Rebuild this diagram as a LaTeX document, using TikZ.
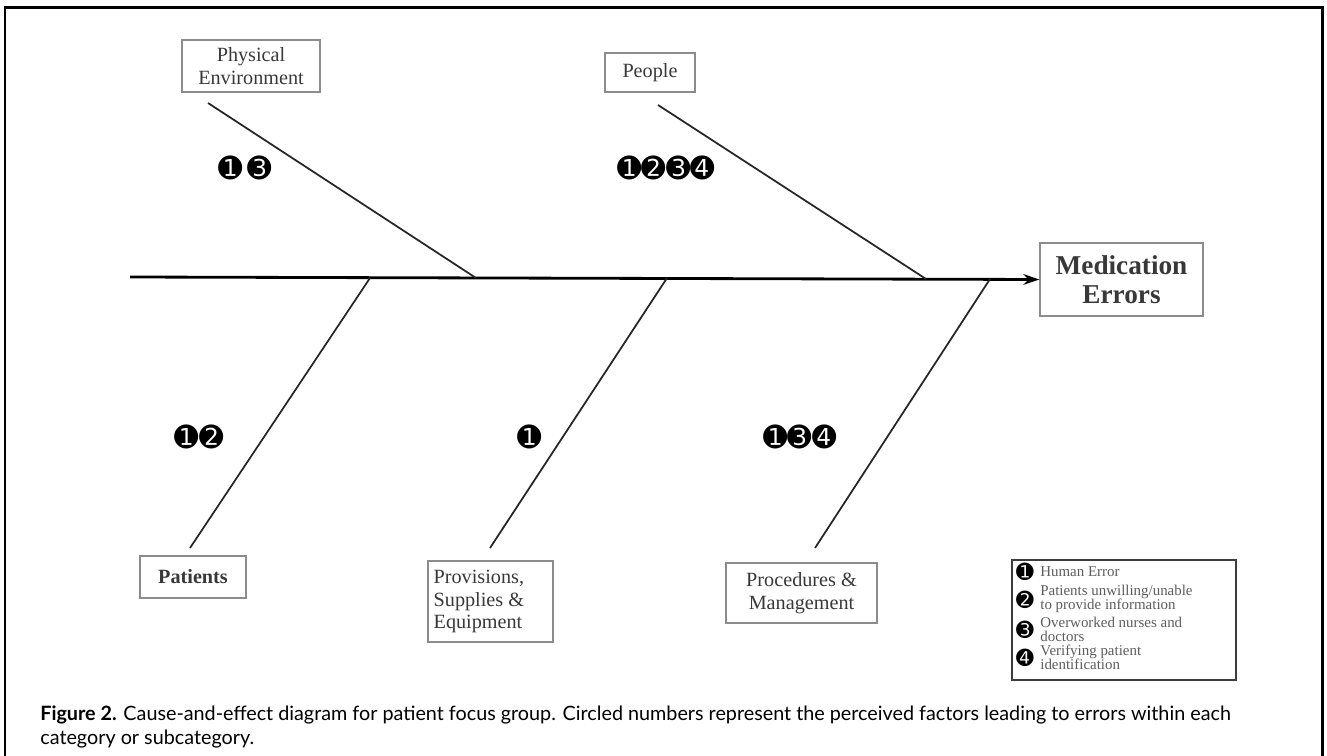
\documentclass[tikz,border=0pt]{standalone}
\usepackage{fontspec}
\setmainfont{Liberation Serif}
\newfontfamily\dingfont{DejaVu Sans}
\newfontfamily\capfont{Lato}
\usetikzlibrary{arrows.meta}
\definecolor{boxgray}{HTML}{8C8C8C}
\definecolor{scantext}{HTML}{383838}
\definecolor{keytextgray}{HTML}{5C5C5C}
\definecolor{legendedge}{HTML}{3C3C3C}

\tikzset{
    cause/.style={draw=boxgray, line width=0.8pt, text=scantext, align=center, inner sep=0pt,
        font=\fontsize{11.5}{13}\selectfont},
    effect/.style={draw=boxgray, line width=0.8pt, text=scantext, align=center, inner sep=0pt,
        minimum width=3.26cm, minimum height=1.46cm, font=\fontsize{15.5}{16.5}\selectfont\bfseries},
    spine/.style={line width=1.6pt, -{Stealth[length=9pt, width=6pt]}},
    bone/.style={line width=1pt, color=black!85},
    marks/.style={font=\dingfont\fontsize{16.5}{16.5}\selectfont, inner sep=0pt},
    keynum/.style={font=\dingfont\fontsize{12}{12}\selectfont, inner sep=0pt},
    keytext/.style={text=keytextgray, align=left, inner sep=0pt, font=\fontsize{8.5}{8}\selectfont},
}

\begin{document}
\begin{tikzpicture}[x=0.02cm, y=-0.02cm]
    \useasboundingbox (0,0) rectangle (1327,756);

    % Frame
    \draw[line width=1.7pt] (5,770) -- (5,8) -- (1322,8) -- (1322,770);

    % Effect and spine
    \node[effect] (effect) at (1121.5,279.5) {Medication\\Errors};
    \coordinate (tail) at (130,277);
    \draw[spine] (tail) -- (effect.west);

    % === Upper causes ===
    \node[cause, minimum width=2.76cm, minimum height=1.04cm] (physical) at (251,66) {Physical\\Environment};
    \coordinate (physical-a) at (208,103);
    \coordinate (physical-b) at (476,278);
    \draw[bone] (physical-a) -- (physical-b);
    \node[marks] (physical-n) at (245,168) {➊\,➌};

    \node[cause, minimum width=1.8cm, minimum height=0.78cm] (people) at (650,72.5) {People};
    \coordinate (people-a) at (658,105);
    \coordinate (people-b) at (926,279);
    \draw[bone] (people-a) -- (people-b);
    \node[marks] (people-n) at (666,168) {➊➋➌➍};

    % === Lower causes ===
    \node[cause, font=\fontsize{11.5}{13}\selectfont\bfseries, minimum width=2.12cm, minimum height=0.84cm] (patients) at (193,577) {Patients};
    \coordinate (patients-a) at (190,548);
    \coordinate (patients-b) at (370,278);
    \draw[bone] (patients-a) -- (patients-b);
    \node[marks] (patients-n) at (199,437) {➊➋};

    \node[cause, align=left, minimum width=2.5cm, minimum height=1.62cm] (provisions) at (490.5,601.5) {Provisions,\\Supplies \&\\Equipment\hspace*{0.5cm}};
    \coordinate (provisions-a) at (490,548);
    \coordinate (provisions-b) at (667,278);
    \draw[bone] (provisions-a) -- (provisions-b);
    \node[marks] (provisions-n) at (530,437) {➊};

    \node[cause, minimum width=3.02cm, minimum height=1.2cm] (procedures) at (801.5,593) {Procedures \&\\Management};
    \coordinate (procedures-a) at (815,548);
    \coordinate (procedures-b) at (990,279);
    \draw[bone] (procedures-a) -- (procedures-b);
    \node[marks] (procedures-n) at (800,437) {➊➌➍};

    % Legend
    \node[draw=legendedge, line width=1pt, minimum width=4.48cm, minimum height=2.4cm, inner sep=0pt] (legend) at (1124,620) {};
    \node[keynum] (k1) at (1025,572) {➊};
    \node[keytext, anchor=west] (t1) at (1040,572) {Human Error};
    \node[keynum] (k2) at (1025,600) {➋};
    \node[keytext, anchor=west] (t2) at (1040,599) {Patients unwilling/unable\\to provide information};
    \node[keynum] (k3) at (1025,630) {➌};
    \node[keytext, anchor=west] (t3) at (1040,629) {Overworked nurses and\\doctors};
    \node[keynum] (k4) at (1025,658) {➍};
    \node[keytext, anchor=west] (t4) at (1040,657) {Verifying patient\\identification};

    % Caption
    \node[anchor=north west, align=left, inner sep=0pt, font=\capfont\fontsize{11.25}{14.2}\selectfont] (caption) at (40,705)
        {\textbf{Figure 2.} Cause-and-effect diagram for patient focus group. Circled numbers represent the perceived factors leading to errors within each\\
         category or subcategory.};
\end{tikzpicture}
\end{document}
